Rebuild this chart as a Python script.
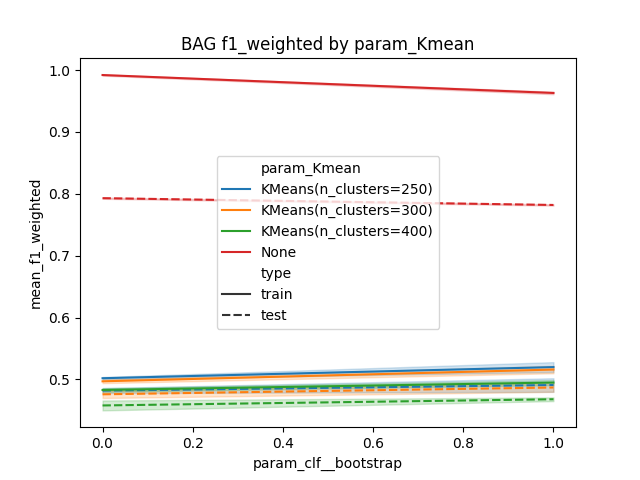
import numpy as np, pandas as pd, seaborn as sns, matplotlib
matplotlib.use("Agg")
import matplotlib.pyplot as plt

kmeans = ["KMeans(n_clusters=250)", "KMeans(n_clusters=300)", "KMeans(n_clusters=400)", "None"]
bootstrap = [0, 1]
# replicate scores per (kmean, bootstrap): lists of 3 runs
train_scores = {
    "KMeans(n_clusters=250)": [[0.500, 0.502, 0.504], [0.512, 0.520, 0.528]],
    "KMeans(n_clusters=300)": [[0.494, 0.497, 0.500], [0.510, 0.516, 0.522]],
    "KMeans(n_clusters=400)": [[0.480, 0.483, 0.486], [0.491, 0.495, 0.499]],
    "None":                   [[0.991, 0.992, 0.993], [0.961, 0.963, 0.965]],
}
test_scores = {
    "KMeans(n_clusters=250)": [[0.478, 0.482, 0.486], [0.480, 0.491, 0.502]],
    "KMeans(n_clusters=300)": [[0.470, 0.476, 0.482], [0.480, 0.487, 0.494]],
    "KMeans(n_clusters=400)": [[0.450, 0.458, 0.466], [0.465, 0.468, 0.471]],
    "None":                   [[0.792, 0.793, 0.794], [0.781, 0.782, 0.783]],
}

rows = []
for typ, d in [("train", train_scores), ("test", test_scores)]:
    for k in kmeans:
        for b, vals in zip(bootstrap, d[k]):
            for v in vals:
                rows.append(dict(param_Kmean=k, type=typ, param_clf__bootstrap=b, mean_f1_weighted=v))
df = pd.DataFrame(rows)

fig, ax = plt.subplots(figsize=(6.4, 4.8), dpi=100)
sns.lineplot(data=df, x="param_clf__bootstrap", y="mean_f1_weighted", hue="param_Kmean",
             style="type", style_order=["train", "test"], hue_order=kmeans, ax=ax)
ax.set_title("BAG f1_weighted by param_Kmean")
sns.move_legend(ax, "center", bbox_to_anchor=(0.5, 0.5))
fig.savefig("out.png")
